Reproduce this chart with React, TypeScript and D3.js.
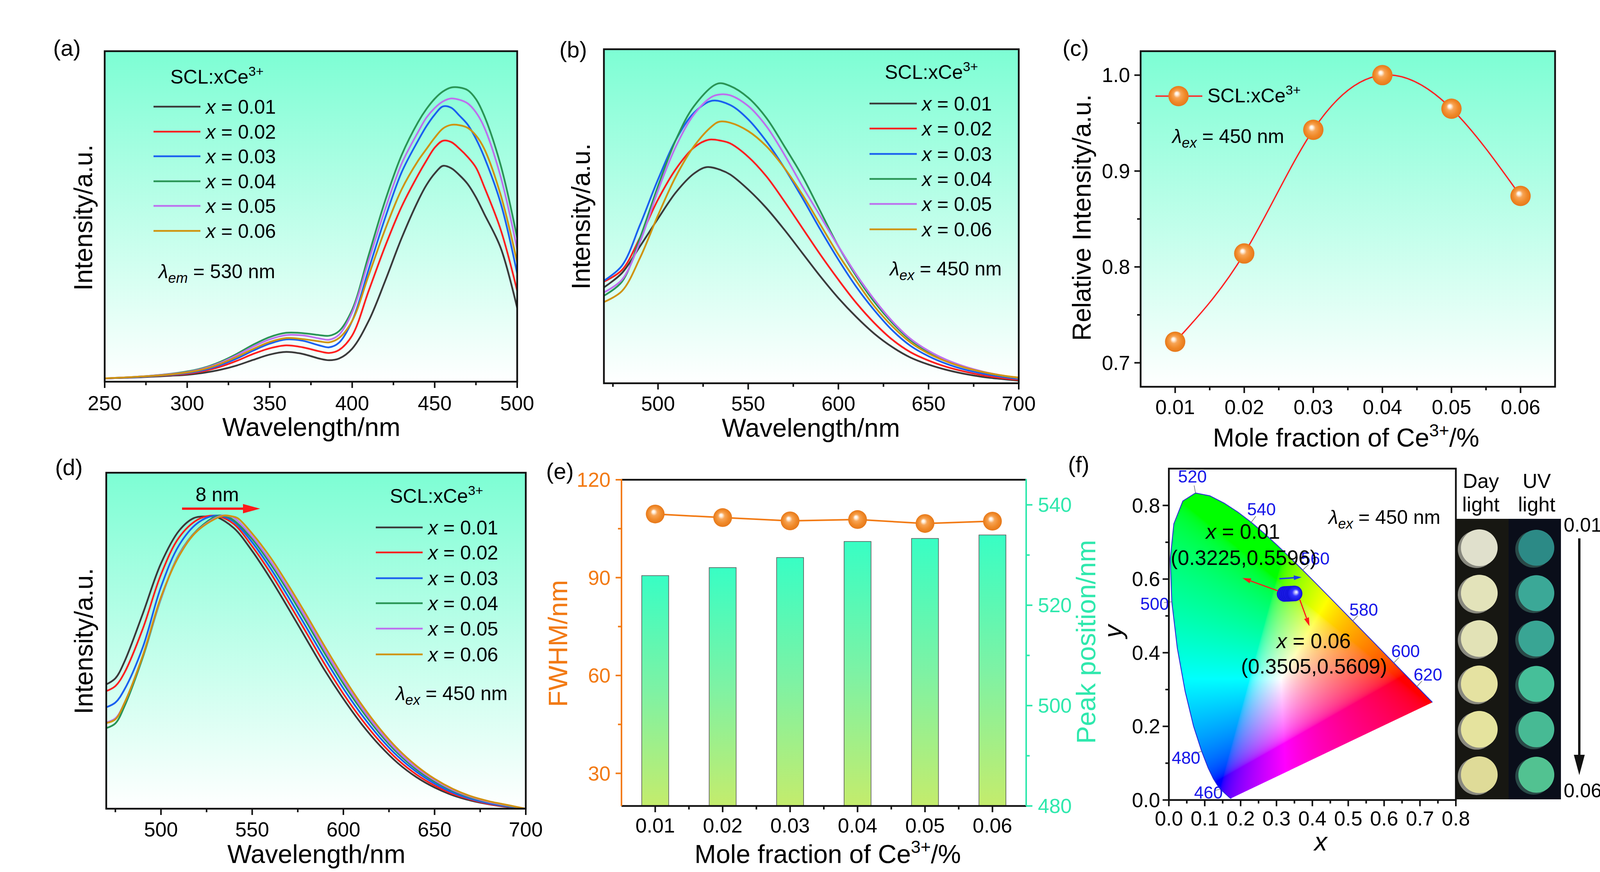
import React, { useMemo } from 'react'
import * as d3 from 'd3'

const FONT = '"Liberation Sans", Arial, Helvetica, sans-serif'

// doping levels of SCL:xCe3+
const concentrations = [0.01, 0.02, 0.03, 0.04, 0.05, 0.06]
const concLabels = ['0.01', '0.02', '0.03', '0.04', '0.05', '0.06']
const lineColors = ['#3a3a3a', '#ff2020', '#1a60f0', '#2a9556', '#bd70ee', '#cf930f']

// (a) excitation spectra, λem = 530 nm   [nm, a.u.]
const ple001 = [[250,1.0],[270,1.3],[290,1.8],[300,2.1],[310,2.7],[320,3.6],[330,4.9],[340,6.6],[350,8.2],[360,9.0],[370,8.4],[380,7.0],[386,6.5],[392,7.0],[400,10.0],[410,18.4],[420,30.5],[430,43.5],[440,54.8],[445,59.5],[450,63.0],[455,65.3],[460,64.6],[465,62.5],[470,59.8],[475,55.8],[480,50.8],[490,40.5],[500,22.3]]
const ple002 = [[250,1.0],[270,1.4],[290,2.0],[300,2.4],[310,3.2],[320,4.5],[330,6.3],[340,8.4],[350,10.1],[360,11.0],[370,10.4],[380,9.2],[386,8.7],[392,9.6],[400,14.0],[410,27.5],[420,41.0],[430,53.0],[440,62.6],[445,66.9],[450,70.8],[455,72.9],[460,72.5],[465,70.5],[470,68.0],[475,64.8],[480,59.0],[490,46.0],[500,27.5]]
const ple003 = [[250,1.0],[270,1.4],[290,2.1],[300,2.6],[310,3.5],[320,5.0],[330,7.0],[340,9.4],[350,11.5],[360,12.8],[370,12.4],[380,11.0],[386,10.4],[392,11.8],[400,18.4],[410,34.0],[420,49.6],[430,63.4],[440,73.0],[445,77.3],[450,80.8],[455,83.3],[460,82.9],[465,80.5],[470,77.8],[475,73.5],[480,68.0],[490,54.0],[500,32.7]]
const ple004 = [[250,1.0],[270,1.5],[290,2.4],[300,3.1],[310,4.2],[320,6.0],[330,8.4],[340,11.2],[350,13.5],[360,14.8],[370,14.7],[380,14.1],[386,13.9],[392,15.3],[400,21.8],[410,38.3],[420,54.8],[430,68.6],[440,78.6],[445,82.5],[450,85.6],[455,87.8],[460,89.0],[465,89.0],[470,88.2],[475,85.5],[480,80.5],[490,65.5],[500,43.5]]
const ple005 = [[250,1.0],[270,1.5],[290,2.3],[300,2.9],[310,4.0],[320,5.7],[330,8.0],[340,10.6],[350,12.8],[360,14.1],[370,14.0],[380,13.1],[386,12.7],[392,14.2],[400,21.0],[410,36.6],[420,52.2],[430,66.0],[440,75.6],[445,79.9],[450,82.8],[455,84.8],[460,85.7],[465,85.3],[470,84.2],[475,81.5],[480,77.0],[490,62.0],[500,40.0]]
const ple006 = [[250,1.0],[270,1.5],[290,2.2],[300,2.8],[310,3.8],[320,5.4],[330,7.5],[340,9.9],[350,12.0],[360,13.2],[370,12.9],[380,12.2],[386,11.9],[392,13.2],[400,18.4],[410,32.2],[420,46.1],[430,58.2],[440,66.9],[445,70.4],[450,73.8],[455,76.6],[460,77.7],[465,77.6],[470,76.8],[475,74.5],[480,70.5],[490,56.5],[500,36.1]]

// (b) emission spectra, λex = 450 nm
const pl001 = [[470,28.7],[480,33.0],[490,41.0],[500,49.3],[510,57.2],[520,62.8],[527,64.7],[535,63.8],[540,62.5],[550,58.0],[560,52.5],[570,46.0],[580,39.0],[590,32.0],[600,25.5],[610,19.8],[620,14.8],[630,10.8],[640,7.7],[650,5.6],[660,4.0],[670,2.8],[680,1.9],[690,1.3],[700,0.8]]
const pl002 = [[470,30.4],[480,33.9],[490,43.6],[500,55.0],[510,64.2],[520,70.6],[528,72.9],[535,72.6],[540,71.8],[550,67.8],[560,62.0],[570,54.5],[580,46.5],[590,38.5],[600,31.0],[610,24.0],[620,18.0],[630,13.0],[640,9.3],[650,6.8],[660,4.9],[670,3.5],[680,2.4],[690,1.6],[700,1.0]]
const pl003 = [[470,30.7],[480,35.2],[490,47.4],[500,61.0],[510,73.0],[520,81.0],[530,84.6],[540,83.3],[550,79.0],[560,72.5],[570,64.5],[580,55.5],[590,46.0],[600,37.0],[610,28.8],[620,21.8],[630,15.8],[640,11.2],[650,8.1],[660,5.8],[670,4.1],[680,2.9],[690,2.0],[700,1.3]]
const pl004 = [[470,26.2],[480,30.4],[490,43.5],[500,59.0],[510,73.0],[520,83.0],[533,89.7],[540,89.0],[550,85.5],[560,79.5],[570,71.0],[580,62.0],[590,51.5],[600,41.0],[610,32.0],[620,24.3],[630,18.0],[640,12.9],[650,9.4],[660,6.8],[670,4.9],[680,3.4],[690,2.3],[700,1.5]]
const pl005 = [[470,27.2],[480,31.0],[490,42.3],[500,57.7],[510,71.0],[520,80.5],[530,85.8],[535,86.5],[540,86.2],[550,83.0],[560,77.0],[570,68.5],[580,59.0],[590,50.0],[600,41.0],[610,32.5],[620,25.0],[630,18.5],[640,13.3],[650,9.7],[660,7.0],[670,5.0],[680,3.5],[690,2.4],[700,1.6]]
const pl006 = [[470,24.3],[480,27.6],[490,37.5],[500,50.3],[510,62.0],[520,71.0],[530,77.0],[534,78.3],[540,78.0],[550,75.5],[560,71.0],[570,64.5],[580,56.5],[590,47.5],[600,38.5],[610,30.5],[620,23.0],[630,17.0],[640,12.2],[650,8.9],[660,6.5],[670,4.7],[680,3.4],[690,2.4],[700,1.7]]

// (d) normalized emission spectra
const npl001 = [[470,37.0],[475,38.8],[480,43.8],[490,58.0],[500,73.0],[510,82.8],[518,86.5],[525,87.0],[530,86.9],[540,83.5],[550,76.7],[560,68.5],[570,59.5],[580,50.2],[590,41.0],[600,32.7],[610,25.2],[620,18.8],[630,13.5],[640,9.4],[650,6.3],[660,4.0],[670,2.4],[680,1.3],[690,0.5],[700,0.0]]
const npl002 = [[470,35.0],[475,36.5],[480,40.5],[490,53.5],[500,69.7],[510,80.8],[520,86.0],[527,87.2],[532,87.0],[540,84.7],[550,78.1],[560,70.2],[570,61.3],[580,52.1],[590,42.8],[600,34.2],[610,26.6],[620,20.0],[630,14.5],[640,10.2],[650,6.9],[660,4.4],[670,2.7],[680,1.4],[690,0.6],[700,0.0]]
const npl003 = [[470,30.2],[475,31.6],[480,35.5],[490,48.0],[500,66.0],[510,78.5],[520,85.0],[529,87.2],[534,87.0],[540,85.4],[550,79.3],[560,71.6],[570,62.9],[580,53.7],[590,44.5],[600,35.8],[610,28.0],[620,21.2],[630,15.5],[640,11.0],[650,7.5],[660,4.8],[670,2.9],[680,1.6],[690,0.7],[700,0.0]]
const npl004 = [[470,24.0],[475,25.4],[480,30.5],[490,45.0],[500,62.5],[510,75.8],[520,83.0],[531,87.2],[536,87.0],[540,85.8],[550,80.3],[560,72.9],[570,64.4],[580,55.3],[590,46.0],[600,37.2],[610,29.3],[620,22.3],[630,16.4],[640,11.7],[650,8.1],[660,5.3],[670,3.3],[680,1.9],[690,0.9],[700,0.0]]
const npl005 = [[470,25.7],[475,26.9],[480,31.5],[490,45.5],[500,62.7],[510,75.6],[520,82.8],[533,87.2],[538,87.0],[540,86.6],[550,81.0],[560,73.7],[570,65.3],[580,56.3],[590,47.0],[600,38.2],[610,30.1],[620,23.0],[630,17.0],[640,12.2],[650,8.5],[660,5.6],[670,3.5],[680,2.0],[690,1.0],[700,0.0]]
const npl006 = [[470,25.5],[475,26.6],[480,31.5],[490,45.5],[500,63.0],[510,75.3],[520,82.7],[534,87.2],[539,87.0],[542,86.5],[550,81.9],[560,74.8],[570,66.4],[580,57.4],[590,48.1],[600,39.2],[610,31.0],[620,23.8],[630,17.7],[640,12.8],[650,8.9],[660,5.9],[670,3.7],[680,2.2],[690,1.1],[700,0.0]]

// (c) relative intensity vs x
const relIntensity = [0.722, 0.814, 0.943, 1.0, 0.965, 0.874]
// (e) FWHM (nm) and peak position (nm)
const fwhm = [109.5, 108.4, 107.4, 107.8, 106.6, 107.3]
const peakPos = [525.9, 527.5, 529.5, 532.7, 533.3, 534.0]

// (f) CIE 1931 spectral locus
const locusNm = [380,385,390,395,400,405,410,415,420,425,430,435,440,445,450,455,460,465,470,475,480,485,490,495,500,505,510,515,520,525,530,535,540,545,550,555,560,565,570,575,580,585,590,595,600,605,610,615,620,625,630,635,640,645,650,660,670,680,700]
const locusX = [0.1741,0.1740,0.1738,0.1736,0.1733,0.1730,0.1726,0.1721,0.1714,0.1703,0.1689,0.1669,0.1644,0.1611,0.1566,0.1510,0.1440,0.1355,0.1241,0.1096,0.0913,0.0687,0.0454,0.0235,0.0082,0.0039,0.0139,0.0389,0.0743,0.1142,0.1547,0.1929,0.2296,0.2658,0.3016,0.3373,0.3731,0.4087,0.4441,0.4788,0.5125,0.5448,0.5752,0.6029,0.6270,0.6482,0.6658,0.6801,0.6915,0.7006,0.7079,0.7140,0.7190,0.7230,0.7260,0.7300,0.7320,0.7334,0.7347]
const locusY = [0.0050,0.0050,0.0049,0.0049,0.0048,0.0048,0.0048,0.0048,0.0051,0.0058,0.0069,0.0086,0.0109,0.0138,0.0177,0.0227,0.0297,0.0399,0.0578,0.0868,0.1327,0.2007,0.2950,0.4127,0.5384,0.6548,0.7502,0.8120,0.8338,0.8262,0.8059,0.7816,0.7543,0.7243,0.6923,0.6589,0.6245,0.5896,0.5547,0.5202,0.4866,0.4544,0.4242,0.3965,0.3725,0.3514,0.3340,0.3197,0.3083,0.2993,0.2920,0.2859,0.2809,0.2770,0.2740,0.2700,0.2680,0.2666,0.2653]
const locusLabelNm = [460, 480, 500, 520, 540, 560, 580, 600, 620]
// chromaticity coordinates of the samples
const cieX = [0.3225, 0.3290, 0.3345, 0.3400, 0.3460, 0.3505]
const cieY = [0.5596, 0.5600, 0.5603, 0.5605, 0.5607, 0.5609]

const dayColors = ['#e0e0cc', '#e3e3ba', '#e2e2b6', '#e5e2a1', '#e5e39e', '#dfdb98']
const uvColors = ['#2c8a86', '#3ba897', '#39a594', '#46bf99', '#47ba94', '#52c291']

const TICK = 52
const TITLE = 66
const LEG = 50
const TAG = 58

type Frame = { x0: number; x1: number; y0: number; y1: number }

function Sup({ x, y, base, sup, after = '', size, anchor = 'start', fill = '#000' }: any) {
  const d = size * 0.4
  return (
    <text x={x} y={y} fontSize={size} textAnchor={anchor} fill={fill}>
      {base}
      <tspan dy={-d} fontSize={size * 0.68}>{sup}</tspan>
      {after ? <tspan dy={d}>{after}</tspan> : null}
    </text>
  )
}

function Lambda({ x, y, sub, rest }: { x: number; y: number; sub: string; rest: string }) {
  return (
    <text x={x} y={y} fontSize={LEG} style={{ whiteSpace: 'pre' }}>
      <tspan fontStyle="italic">λ</tspan>
      <tspan fontStyle="italic" fontSize={LEG * 0.72} dy={LEG * 0.24}>{sub}</tspan>
      <tspan dy={-LEG * 0.24}>{' ' + rest}</tspan>
    </text>
  )
}

function XLabel({ x, y, v }: { x: number; y: number; v: string }) {
  return (
    <text x={x} y={y} fontSize={LEG} style={{ whiteSpace: 'pre' }}>
      <tspan fontStyle="italic">x</tspan>
      {' = ' + v}
    </text>
  )
}

function Arrow({ x1, y1, x2, y2, color, w = 4, head = 26, headW = 18 }: any) {
  const a = Math.atan2(y2 - y1, x2 - x1)
  const bx = x2 - head * Math.cos(a)
  const by = y2 - head * Math.sin(a)
  const nx = (-Math.sin(a) * headW) / 2
  const ny = (Math.cos(a) * headW) / 2
  return (
    <g>
      <line x1={x1} y1={y1} x2={bx} y2={by} stroke={color} strokeWidth={w} />
      <polygon points={`${x2},${y2} ${bx + nx},${by + ny} ${bx - nx},${by - ny}`} fill={color} />
    </g>
  )
}

function BottomTicks({ x, y0, major, minor, fmt, labelY }: any) {
  return (
    <g>
      {minor.map((t: number) => (
        <line key={'m' + t} x1={x(t)} x2={x(t)} y1={y0} y2={y0 + 9} stroke="#111" strokeWidth={4} />
      ))}
      {major.map((t: number) => (
        <g key={'M' + t}>
          <line x1={x(t)} x2={x(t)} y1={y0} y2={y0 + 16} stroke="#111" strokeWidth={4} />
          <text x={x(t)} y={labelY} fontSize={TICK} textAnchor="middle">{fmt(t)}</text>
        </g>
      ))}
    </g>
  )
}

type SpecCfg = {
  id: string
  frame: Frame
  xDomain: [number, number]
  major: number[]
  minor: number[]
  series: number[][][]
  tag: [number, number]
  tickY: number
  titleX: number
  titleY: number
  yTitle: [number, number]
  legTitle: [number, number]
  legLine: [number, number]
  legText: number
  legRows: number[]
  lambda: [number, number, string, string]
  extra?: React.ReactNode
}

function SpectrumPanel({ cfg }: { cfg: SpecCfg }) {
  const f = cfg.frame
  const x = d3.scaleLinear().domain(cfg.xDomain).range([f.x0, f.x1])
  const y = d3.scaleLinear().domain([0, 100]).range([f.y1, f.y0])
  const line = d3
    .line<number[]>()
    .x(d => x(d[0]))
    .y(d => y(d[1]))
    .curve(d3.curveCatmullRom.alpha(0.5))
  return (
    <g>
      <defs>
        <clipPath id={`clip-${cfg.id}`}>
          <rect x={f.x0} y={f.y0} width={f.x1 - f.x0} height={f.y1 - f.y0} />
        </clipPath>
      </defs>
      <rect x={f.x0} y={f.y0} width={f.x1 - f.x0} height={f.y1 - f.y0} fill="url(#aquaFade)" />
      <g clipPath={`url(#clip-${cfg.id})`}>
        {cfg.series.map((s, i) => (
          <path key={i} d={line(s) ?? ''} fill="none" stroke={lineColors[i]} strokeWidth={4.5} strokeLinejoin="round" />
        ))}
      </g>
      <Sup x={cfg.legTitle[0]} y={cfg.legTitle[1]} base="SCL:xCe" sup="3+" size={LEG} />
      {cfg.legRows.map((ry, i) => (
        <g key={i}>
          <line x1={cfg.legLine[0]} x2={cfg.legLine[1]} y1={ry} y2={ry} stroke={lineColors[i]} strokeWidth={4.5} />
          <XLabel x={cfg.legText} y={ry + 18} v={concLabels[i]} />
        </g>
      ))}
      <Lambda x={cfg.lambda[0]} y={cfg.lambda[1]} sub={cfg.lambda[2]} rest={cfg.lambda[3]} />
      {cfg.extra}
      <rect x={f.x0} y={f.y0} width={f.x1 - f.x0} height={f.y1 - f.y0} fill="none" stroke="#111" strokeWidth={4.5} />
      <BottomTicks x={x} y0={f.y1} major={cfg.major} minor={cfg.minor} fmt={(t: number) => String(t)} labelY={cfg.tickY} />
      <text x={cfg.titleX} y={cfg.titleY} fontSize={TITLE} textAnchor="middle">Wavelength/nm</text>
      <text transform={`translate(${cfg.yTitle[0]},${cfg.yTitle[1]}) rotate(-90)`} fontSize={TITLE} textAnchor="middle">
        Intensity/a.u.
      </text>
      <text x={cfg.tag[0]} y={cfg.tag[1]} fontSize={TAG}>{`(${cfg.id})`}</text>
    </g>
  )
}

const panelA: SpecCfg = {
  id: 'a',
  frame: { x0: 268, x1: 1324, y0: 131, y1: 977 },
  xDomain: [250, 500],
  major: [250, 300, 350, 400, 450, 500],
  minor: [275, 325, 375, 425, 475],
  series: [ple001, ple002, ple003, ple004, ple005, ple006],
  tag: [136, 143],
  tickY: 1050,
  titleX: 797,
  titleY: 1116,
  yTitle: [236, 557],
  legTitle: [436, 214],
  legLine: [393, 513],
  legText: 527,
  legRows: [273, 337, 400, 464, 527, 591],
  lambda: [406, 712, 'em', '= 530 nm'],
}

const panelB: SpecCfg = {
  id: 'b',
  frame: { x0: 1546, x1: 2608, y0: 126, y1: 981 },
  xDomain: [470, 700],
  major: [500, 550, 600, 650, 700],
  minor: [475, 525, 575, 625, 675],
  series: [pl001, pl002, pl003, pl004, pl005, pl006],
  tag: [1432, 147],
  tickY: 1051,
  titleX: 2076,
  titleY: 1118,
  yTitle: [1510, 554],
  legTitle: [2265, 202],
  legLine: [2226, 2347],
  legText: 2360,
  legRows: [265, 329, 394, 458, 522, 587],
  lambda: [2278, 705, 'ex', '= 450 nm'],
}

function shiftArrow() {
  return (
    <g>
      <text x={556} y={1283} fontSize={LEG} textAnchor="middle">8 nm</text>
      <Arrow x1={466} y1={1302} x2={666} y2={1302} color="#ff1a1a" w={6} head={44} headW={24} />
    </g>
  )
}

const panelD: SpecCfg = {
  id: 'd',
  frame: { x0: 272, x1: 1346, y0: 1210, y1: 2070 },
  xDomain: [470, 700],
  major: [500, 550, 600, 650, 700],
  minor: [475, 525, 575, 625, 675],
  series: [npl001, npl002, npl003, npl004, npl005, npl006],
  tag: [141, 1216],
  tickY: 2141,
  titleX: 810,
  titleY: 2209,
  yTitle: [237, 1641],
  legTitle: [998, 1287],
  legLine: [962, 1082],
  legText: 1096,
  legRows: [1350, 1414, 1480, 1544, 1609, 1675],
  lambda: [1013, 1792, 'ex', '= 450 nm'],
  extra: shiftArrow(),
}

function PanelC() {
  const f = { x0: 2920, x1: 3981, y0: 131, y1: 990 }
  const x = d3.scaleLinear().domain([0.005, 0.065]).range([f.x0, f.x1])
  const y = d3.scaleLinear().domain([0.675, 1.025]).range([f.y1, f.y0])
  const pts: [number, number][] = concentrations.map((c, i) => [x(c), y(relIntensity[i])])
  const line = d3.line().curve(d3.curveNatural)
  const yMajor = [0.7, 0.8, 0.9, 1.0]
  const yMinor = [0.75, 0.85, 0.95]
  return (
    <g>
      <rect x={f.x0} y={f.y0} width={f.x1 - f.x0} height={f.y1 - f.y0} fill="url(#aquaFade)" />
      <path d={line(pts) ?? ''} fill="none" stroke="#ff2323" strokeWidth={3.5} />
      {pts.map((p, i) => (
        <circle key={i} cx={p[0]} cy={p[1]} r={26} fill="url(#ballOrange)" />
      ))}
      <line x1={2958} x2={3078} y1={246} y2={246} stroke="#ff2323" strokeWidth={3.5} />
      <circle cx={3017} cy={246} r={26} fill="url(#ballOrange)" />
      <Sup x={3091} y={262} base="SCL:xCe" sup="3+" size={LEG} />
      <Lambda x={3001} y={366} sub="ex" rest="= 450 nm" />
      <rect x={f.x0} y={f.y0} width={f.x1 - f.x0} height={f.y1 - f.y0} fill="none" stroke="#111" strokeWidth={4.5} />
      <BottomTicks
        x={x}
        y0={f.y1}
        major={concentrations}
        minor={[0.015, 0.025, 0.035, 0.045, 0.055]}
        fmt={(t: number) => t.toFixed(2)}
        labelY={1060}
      />
      {yMinor.map(t => (
        <line key={t} x1={f.x0 - 9} x2={f.x0} y1={y(t)} y2={y(t)} stroke="#111" strokeWidth={4} />
      ))}
      {yMajor.map(t => (
        <g key={t}>
          <line x1={f.x0 - 16} x2={f.x0} y1={y(t)} y2={y(t)} stroke="#111" strokeWidth={4} />
          <text x={2893} y={y(t) + 18} fontSize={TICK} textAnchor="end">{t.toFixed(1)}</text>
        </g>
      ))}
      <Sup x={3446} y={1143} base="Mole fraction of Ce" sup="3+" after="/%" size={TITLE} anchor="middle" />
      <text transform="translate(2792,557) rotate(-90)" fontSize={TITLE} textAnchor="middle">Relative Intensity/a.u.</text>
      <text x={2720} y={143} fontSize={TAG}>(c)</text>
    </g>
  )
}

function PanelE() {
  const f = { x0: 1591, x1: 2627, y0: 1228, y1: 2063 }
  const x = d3.scaleLinear().domain([0.005, 0.065]).range([f.x0, f.x1])
  const yL = d3.scaleLinear().domain([20, 120]).range([f.y1, f.y0])
  const yR = d3.scaleLinear().domain([480, 545]).range([f.y1, f.y0])
  const barW = x(0.004) - x(0)
  const orange = '#f27a14'
  const aqua = '#2fe8ad'
  const pts: [number, number][] = concentrations.map((c, i) => [x(c), yL(fwhm[i])])
  const line = d3.line()
  return (
    <g>
      {concentrations.map((c, i) => (
        <rect
          key={c}
          x={x(c) - barW / 2}
          y={yR(peakPos[i])}
          width={barW}
          height={yR(480) - yR(peakPos[i])}
          fill="url(#barFade)"
          stroke="#5a5a5a"
          strokeWidth={1.6}
        />
      ))}
      <path d={line(pts) ?? ''} fill="none" stroke={orange} strokeWidth={4} />
      {pts.map((p, i) => (
        <circle key={i} cx={p[0]} cy={p[1]} r={24} fill="url(#ballOrange)" />
      ))}
      <line x1={f.x0} x2={f.x1} y1={f.y0} y2={f.y0} stroke="#111" strokeWidth={4.5} />
      <line x1={f.x0} x2={f.x1} y1={f.y1} y2={f.y1} stroke="#111" strokeWidth={4.5} />
      <line x1={f.x0} x2={f.x0} y1={f.y0 - 2} y2={f.y1} stroke={orange} strokeWidth={4} />
      <line x1={f.x1} x2={f.x1} y1={f.y0 - 2} y2={f.y1} stroke={aqua} strokeWidth={4} />
      {[45, 75, 105].map(t => (
        <line key={t} x1={f.x0 - 9} x2={f.x0} y1={yL(t)} y2={yL(t)} stroke={orange} strokeWidth={4} />
      ))}
      {[30, 60, 90, 120].map(t => (
        <g key={t}>
          <line x1={f.x0 - 15} x2={f.x0} y1={yL(t)} y2={yL(t)} stroke={orange} strokeWidth={4} />
          <text x={1563} y={yL(t) + 18} fontSize={TICK} textAnchor="end" fill={orange}>{t}</text>
        </g>
      ))}
      {[490, 510, 530].map(t => (
        <line key={t} x1={f.x1} x2={f.x1 + 9} y1={yR(t)} y2={yR(t)} stroke={aqua} strokeWidth={4} />
      ))}
      {[480, 500, 520, 540].map(t => (
        <g key={t}>
          <line x1={f.x1} x2={f.x1 + 16} y1={yR(t)} y2={yR(t)} stroke={aqua} strokeWidth={4} />
          <text x={2657} y={yR(t) + 18} fontSize={TICK} fill={aqua}>{t}</text>
        </g>
      ))}
      <BottomTicks
        x={x}
        y0={f.y1}
        major={concentrations}
        minor={[0.015, 0.025, 0.035, 0.045, 0.055]}
        fmt={(t: number) => t.toFixed(2)}
        labelY={2131}
      />
      <Sup x={2119} y={2209} base="Mole fraction of Ce" sup="3+" after="/%" size={TITLE} anchor="middle" />
      <text transform="translate(1452,1647) rotate(-90)" fontSize={TITLE + 2} textAnchor="middle" fill={orange}>FWHM/nm</text>
      <text transform="translate(2804,1643) rotate(-90)" fontSize={TITLE + 2} textAnchor="middle" fill={aqua}>Peak position/nm</text>
      <text x={1398} y={1226} fontSize={TAG}>(e)</text>
    </g>
  )
}

function useCieImage(w: number, h: number, xMax: number, yMax: number) {
  return useMemo(() => {
    const canvas = document.createElement('canvas')
    canvas.width = w
    canvas.height = h
    const ctx = canvas.getContext('2d')
    if (!ctx) return ''
    const img = ctx.createImageData(w, h)
    const gam = (v: number) => (v <= 0.0031308 ? 12.92 * v : 1.055 * Math.pow(v, 1 / 2.4) - 0.055)
    for (let py = 0; py < h; py++) {
      const cy = ((h - py - 0.5) / h) * yMax
      for (let px = 0; px < w; px++) {
        const cx = ((px + 0.5) / w) * xMax
        const k = (py * w + px) * 4
        if (cy < 0.001) continue
        const X = cx / cy
        const Z = (1 - cx - cy) / cy
        let r = 3.2406 * X - 1.5372 - 0.4986 * Z
        let g = -0.9689 * X + 1.8758 + 0.0415 * Z
        let b = 0.0557 * X - 0.204 + 1.057 * Z
        r = Math.max(0, r)
        g = Math.max(0, g)
        b = Math.max(0, b)
        const m = Math.max(r, g, b) || 1
        img.data[k] = Math.round(gam(r / m) * 255)
        img.data[k + 1] = Math.round(gam(g / m) * 255)
        img.data[k + 2] = Math.round(gam(b / m) * 255)
        img.data[k + 3] = 255
      }
    }
    ctx.putImageData(img, 0, 0)
    return canvas.toDataURL('image/png')
  }, [w, h, xMax, yMax])
}

// label offsets (px) from the locus point for each marked wavelength
const labelOffset: Record<number, [number, number]> = {
  460: [-31, 8],
  480: [-40, 16],
  500: [-44, 5],
  520: [-8, -43],
  540: [26, -34],
  560: [32, -30],
  580: [28, -29],
  600: [30, -31],
  620: [28, -31],
}

function PanelF() {
  const f = { x0: 2992.3, x1: 3727, y0: 1199.5, y1: 2047.7 }
  const x = d3.scaleLinear().domain([0, 0.8]).range([f.x0, f.x1])
  const y = d3.scaleLinear().domain([0, 0.9]).range([f.y1, f.y0])
  const url = useCieImage(Math.round(f.x1 - f.x0), Math.round(f.y1 - f.y0), 0.8, 0.9)
  const locusPts: [number, number][] = locusX.map((v, i) => [x(v), y(locusY[i])])
  const line = d3.line()
  const closed = (line(locusPts) ?? '') + 'Z'
  const samplePts = cieX.map((v, i) => [x(v), y(cieY[i])])
  const blue = '#1616e8'
  return (
    <g>
      <defs>
        <clipPath id="clip-locus">
          <path d={closed} />
        </clipPath>
      </defs>
      <image
        href={url}
        x={f.x0}
        y={f.y0}
        width={f.x1 - f.x0}
        height={f.y1 - f.y0}
        preserveAspectRatio="none"
        clipPath="url(#clip-locus)"
      />
      <path d={line(locusPts) ?? ''} fill="none" stroke="#2a2ad8" strokeWidth={2.2} />
      {locusLabelNm.map(nm => {
        const i = locusNm.indexOf(nm)
        const px = locusPts[i][0]
        const py = locusPts[i][1]
        const [dx, dy] = labelOffset[nm]
        return (
          <g key={nm}>
            <line x1={px} y1={py} x2={px + dx * 0.45} y2={py + dy * 0.45} stroke="#777" strokeWidth={1.6} />
            <text x={px + dx} y={py + dy + 16} fontSize={44} textAnchor="middle" fill={blue}>{nm}</text>
          </g>
        )
      })}
      {samplePts.map((p, i) => (
        <circle key={i} cx={p[0]} cy={p[1]} r={20} fill="url(#ballBlue)" />
      ))}
      <Arrow x1={x(0.304)} y1={y(0.568)} x2={x(0.205)} y2={y(0.603)} color="#ff1a1a" w={3} head={22} headW={13} />
      <Arrow x1={x(0.365)} y1={y(0.544)} x2={x(0.392)} y2={y(0.472)} color="#ff1a1a" w={3} head={22} headW={13} />
      <Arrow x1={x(0.308)} y1={y(0.601)} x2={x(0.370)} y2={y(0.605)} color="#1a3af0" w={3.5} head={20} headW={12} />
      <g fontSize={53}>
        <text x={3087} y={1379} style={{ whiteSpace: 'pre' }}>
          <tspan fontStyle="italic">x</tspan>{' = 0.01'}
        </text>
        <text x={2997} y={1446}>(0.3225,0.5596)</text>
        <text x={3268} y={1659} style={{ whiteSpace: 'pre' }}>
          <tspan fontStyle="italic">x</tspan>{' = 0.06'}
        </text>
        <text x={3177} y={1724}>(0.3505,0.5609)</text>
      </g>
      <Lambda x={3401} y={1341} sub="ex" rest="= 450 nm" />
      <rect x={f.x0} y={f.y0} width={f.x1 - f.x0} height={f.y1 - f.y0} fill="none" stroke="#111" strokeWidth={4.5} />
      <BottomTicks
        x={x}
        y0={f.y1}
        major={[0, 0.1, 0.2, 0.3, 0.4, 0.5, 0.6, 0.7, 0.8]}
        minor={[0.05, 0.15, 0.25, 0.35, 0.45, 0.55, 0.65, 0.75]}
        fmt={(t: number) => t.toFixed(1)}
        labelY={2113}
      />
      {[0.1, 0.3, 0.5, 0.7].map(t => (
        <line key={t} x1={f.x0 - 9} x2={f.x0} y1={y(t)} y2={y(t)} stroke="#111" strokeWidth={4} />
      ))}
      {[0, 0.2, 0.4, 0.6, 0.8].map(t => (
        <g key={t}>
          <line x1={f.x0 - 16} x2={f.x0} y1={y(t)} y2={y(t)} stroke="#111" strokeWidth={4} />
          <text x={2970} y={y(t) + 18} fontSize={TICK} textAnchor="end">{t.toFixed(1)}</text>
        </g>
      ))}
      <text x={3381} y={2177} fontSize={TITLE} fontStyle="italic" textAnchor="middle">x</text>
      <text transform="translate(2872,1616) rotate(-90)" fontSize={TITLE} fontStyle="italic" textAnchor="middle">y</text>
      <text x={2734} y={1209} fontSize={TAG}>(f)</text>
      <Photo />
    </g>
  )
}

function Photo() {
  const rows = d3.scaleLinear().domain([0, 5]).range([1402, 1983])
  return (
    <g>
      <rect x={3729} y={1328} width={134} height={718} fill="#171712" />
      <rect x={3862} y={1328} width={134} height={718} fill="#0a0e1a" />
      {dayColors.map((c, i) => (
        <g key={'d' + i}>
          <circle cx={3780} cy={rows(i) + 4} r={48} fill="#8a8a80" />
          <circle cx={3787} cy={rows(i)} r={47} fill={c} />
        </g>
      ))}
      {uvColors.map((c, i) => (
        <g key={'u' + i}>
          <circle cx={3926} cy={rows(i) + 4} r={47} fill="#2a4a48" />
          <circle cx={3933} cy={rows(i)} r={46} fill={c} />
        </g>
      ))}
      <g fontSize={52} textAnchor="middle">
        <text x={3791} y={1249}>Day</text>
        <text x={3791} y={1309}>light</text>
        <text x={3934} y={1249}>UV</text>
        <text x={3934} y={1309}>light</text>
      </g>
      <text x={4003} y={1361} fontSize={LEG}>0.01</text>
      <text x={4003} y={2041} fontSize={LEG}>0.06</text>
      <Arrow x1={4043} y1={1378} x2={4043} y2={1984} color="#111" w={6} head={52} headW={28} />
    </g>
  )
}

export default function App() {
  return (
    <svg
      width={4110}
      height={2232}
      viewBox="0 0 4110 2232"
      style={{ position: 'absolute', left: 0, top: 0, background: '#fff', fontFamily: FONT }}
    >
      <defs>
        <linearGradient id="aquaFade" x1="0" y1="0" x2="0" y2="1">
          <stop offset="0" stopColor="#7dfed4" />
          <stop offset="1" stopColor="#ffffff" />
        </linearGradient>
        <linearGradient id="barFade" x1="0" y1="0" x2="0" y2="1">
          <stop offset="0" stopColor="#38fec4" />
          <stop offset="0.5" stopColor="#7ef2a4" />
          <stop offset="1" stopColor="#c4ec6c" />
        </linearGradient>
        <radialGradient id="ballOrange" cx="0.5" cy="0.5" r="0.5" fx="0.4" fy="0.36">
          <stop offset="0" stopColor="#ffffff" />
          <stop offset="0.14" stopColor="#fff1e2" />
          <stop offset="0.36" stopColor="#f7a455" />
          <stop offset="0.7" stopColor="#f08a2a" />
          <stop offset="1" stopColor="#e6781a" />
        </radialGradient>
        <radialGradient id="ballBlue" cx="0.5" cy="0.5" r="0.5" fx="0.62" fy="0.4">
          <stop offset="0" stopColor="#ffffff" />
          <stop offset="0.15" stopColor="#c8c8ff" />
          <stop offset="0.45" stopColor="#3030ff" />
          <stop offset="1" stopColor="#1010d8" />
        </radialGradient>
      </defs>
      <SpectrumPanel cfg={panelA} />
      <SpectrumPanel cfg={panelB} />
      <PanelC />
      <SpectrumPanel cfg={panelD} />
      <PanelE />
      <PanelF />
    </svg>
  )
}
